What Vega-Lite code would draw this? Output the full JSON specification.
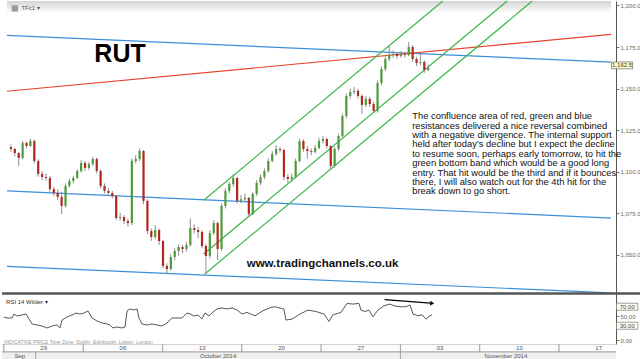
{
"$schema": "https://vega.github.io/schema/vega-lite/v6.json",
"padding": 0,
"spacing": 0,
"bounds": "flush",
"background": "white",
"config": {"view": {"stroke": null}, "font": "Liberation Sans"},
"datasets": {
"candles": [
{"t":0.125,"o":1114.9,"h":1116.5,"l":1112.0,"c":1113.7},
{"t":0.375,"o":1113.7,"h":1114.5,"l":1109.5,"c":1111.3},
{"t":0.625,"o":1111.3,"h":1112.0,"l":1103.5,"c":1108.3},
{"t":0.875,"o":1108.3,"h":1118.5,"l":1107.5,"c":1117.3},
{"t":1.125,"o":1117.3,"h":1118.0,"l":1114.0,"c":1115.5},
{"t":1.375,"o":1115.5,"h":1120.0,"l":1114.8,"c":1118.5},
{"t":1.625,"o":1118.5,"h":1119.5,"l":1105.0,"c":1106.5},
{"t":1.875,"o":1106.5,"h":1107.5,"l":1097.0,"c":1098.7},
{"t":2.125,"o":1098.7,"h":1100.5,"l":1095.0,"c":1096.9},
{"t":2.375,"o":1096.9,"h":1099.0,"l":1094.5,"c":1096.3},
{"t":2.625,"o":1096.3,"h":1097.5,"l":1088.0,"c":1089.6},
{"t":2.875,"o":1089.6,"h":1091.0,"l":1085.5,"c":1087.3},
{"t":3.125,"o":1087.3,"h":1089.5,"l":1083.0,"c":1084.9},
{"t":3.375,"o":1084.9,"h":1088.0,"l":1074.6,"c":1079.5},
{"t":3.625,"o":1079.5,"h":1093.0,"l":1078.5,"c":1091.5},
{"t":3.875,"o":1091.5,"h":1096.0,"l":1090.5,"c":1094.5},
{"t":4.125,"o":1094.5,"h":1097.5,"l":1093.0,"c":1096.3},
{"t":4.375,"o":1096.3,"h":1101.5,"l":1095.5,"c":1100.5},
{"t":4.625,"o":1100.5,"h":1107.0,"l":1099.5,"c":1105.3},
{"t":4.875,"o":1105.3,"h":1106.5,"l":1100.5,"c":1102.3},
{"t":5.125,"o":1102.3,"h":1106.0,"l":1101.0,"c":1104.7},
{"t":5.375,"o":1104.7,"h":1109.0,"l":1103.5,"c":1107.7},
{"t":5.625,"o":1107.7,"h":1108.5,"l":1099.0,"c":1100.5},
{"t":5.875,"o":1100.5,"h":1101.5,"l":1090.0,"c":1091.5},
{"t":6.125,"o":1091.5,"h":1093.0,"l":1087.0,"c":1088.5},
{"t":6.375,"o":1088.5,"h":1090.5,"l":1085.5,"c":1087.3},
{"t":6.625,"o":1087.3,"h":1088.5,"l":1084.0,"c":1085.5},
{"t":6.875,"o":1085.5,"h":1086.0,"l":1071.0,"c":1072.2},
{"t":7.125,"o":1072.2,"h":1075.5,"l":1070.5,"c":1072.8},
{"t":7.375,"o":1072.8,"h":1074.0,"l":1068.5,"c":1070.4},
{"t":7.625,"o":1070.4,"h":1072.0,"l":1067.0,"c":1069.2},
{"t":7.875,"o":1069.2,"h":1108.0,"l":1068.0,"c":1106.5},
{"t":8.125,"o":1106.5,"h":1110.0,"l":1105.0,"c":1107.7},
{"t":8.375,"o":1107.7,"h":1114.0,"l":1106.5,"c":1112.5},
{"t":8.625,"o":1112.5,"h":1113.0,"l":1080.5,"c":1082.5},
{"t":8.875,"o":1082.5,"h":1083.5,"l":1062.5,"c":1064.4},
{"t":9.125,"o":1064.4,"h":1066.0,"l":1058.5,"c":1060.8},
{"t":9.375,"o":1060.8,"h":1068.0,"l":1059.5,"c":1065.0},
{"t":9.625,"o":1065.0,"h":1066.0,"l":1056.0,"c":1058.4},
{"t":9.875,"o":1058.4,"h":1059.0,"l":1042.0,"c":1043.4},
{"t":10.125,"o":1043.4,"h":1045.0,"l":1039.2,"c":1041.6},
{"t":10.375,"o":1041.6,"h":1050.5,"l":1040.5,"c":1048.8},
{"t":10.625,"o":1048.8,"h":1054.0,"l":1047.0,"c":1052.4},
{"t":10.875,"o":1052.4,"h":1056.5,"l":1049.5,"c":1054.8},
{"t":11.125,"o":1054.8,"h":1056.0,"l":1051.0,"c":1053.6},
{"t":11.375,"o":1053.6,"h":1058.0,"l":1052.0,"c":1056.0},
{"t":11.625,"o":1056.0,"h":1072.0,"l":1055.0,"c":1066.2},
{"t":11.875,"o":1066.2,"h":1068.5,"l":1063.0,"c":1065.0},
{"t":12.125,"o":1065.0,"h":1067.0,"l":1060.0,"c":1063.8},
{"t":12.375,"o":1063.8,"h":1065.0,"l":1054.0,"c":1055.4},
{"t":12.625,"o":1055.4,"h":1056.5,"l":1038.6,"c":1049.4},
{"t":12.875,"o":1049.4,"h":1065.0,"l":1048.0,"c":1063.2},
{"t":13.125,"o":1063.2,"h":1071.0,"l":1062.0,"c":1069.2},
{"t":13.375,"o":1069.2,"h":1070.0,"l":1047.0,"c":1053.6},
{"t":13.625,"o":1053.6,"h":1081.0,"l":1052.5,"c":1079.5},
{"t":13.875,"o":1079.5,"h":1090.0,"l":1078.0,"c":1088.5},
{"t":14.125,"o":1088.5,"h":1094.0,"l":1087.0,"c":1092.6},
{"t":14.375,"o":1092.6,"h":1098.5,"l":1091.0,"c":1096.3},
{"t":14.625,"o":1096.3,"h":1097.0,"l":1081.0,"c":1082.5},
{"t":14.875,"o":1082.5,"h":1086.0,"l":1081.0,"c":1083.5},
{"t":15.125,"o":1083.5,"h":1087.0,"l":1082.0,"c":1084.3},
{"t":15.375,"o":1084.3,"h":1085.0,"l":1073.0,"c":1074.6},
{"t":15.625,"o":1074.6,"h":1088.0,"l":1074.0,"c":1086.7},
{"t":15.875,"o":1086.7,"h":1095.0,"l":1085.5,"c":1093.3},
{"t":16.125,"o":1093.3,"h":1098.5,"l":1092.0,"c":1096.9},
{"t":16.375,"o":1096.9,"h":1102.0,"l":1095.5,"c":1100.5},
{"t":16.625,"o":1100.5,"h":1108.0,"l":1099.5,"c":1106.5},
{"t":16.875,"o":1106.5,"h":1112.5,"l":1105.5,"c":1110.7},
{"t":17.125,"o":1110.7,"h":1116.0,"l":1109.5,"c":1113.7},
{"t":17.375,"o":1113.7,"h":1115.0,"l":1111.5,"c":1113.1},
{"t":17.625,"o":1113.1,"h":1114.0,"l":1095.0,"c":1096.9},
{"t":17.875,"o":1096.9,"h":1098.5,"l":1093.5,"c":1095.7},
{"t":18.125,"o":1095.7,"h":1099.0,"l":1094.0,"c":1096.9},
{"t":18.375,"o":1096.9,"h":1108.0,"l":1096.0,"c":1106.5},
{"t":18.625,"o":1106.5,"h":1120.0,"l":1105.5,"c":1118.5},
{"t":18.875,"o":1118.5,"h":1119.5,"l":1112.0,"c":1113.7},
{"t":19.125,"o":1113.7,"h":1115.5,"l":1108.0,"c":1112.5},
{"t":19.375,"o":1112.5,"h":1114.0,"l":1110.0,"c":1112.0},
{"t":19.625,"o":1112.0,"h":1116.0,"l":1111.0,"c":1114.3},
{"t":19.875,"o":1114.3,"h":1120.5,"l":1113.5,"c":1118.5},
{"t":20.125,"o":1118.5,"h":1121.5,"l":1117.0,"c":1119.7},
{"t":20.375,"o":1119.7,"h":1120.5,"l":1114.0,"c":1115.5},
{"t":20.625,"o":1115.5,"h":1116.0,"l":1101.5,"c":1103.5},
{"t":20.875,"o":1103.5,"h":1115.0,"l":1102.5,"c":1113.7},
{"t":21.125,"o":1113.7,"h":1123.0,"l":1112.5,"c":1121.5},
{"t":21.375,"o":1121.5,"h":1135.0,"l":1120.5,"c":1133.5},
{"t":21.625,"o":1133.5,"h":1147.0,"l":1132.0,"c":1145.6},
{"t":21.875,"o":1145.6,"h":1150.0,"l":1144.0,"c":1148.0},
{"t":22.125,"o":1148.0,"h":1151.0,"l":1146.5,"c":1148.6},
{"t":22.375,"o":1148.6,"h":1150.0,"l":1144.0,"c":1145.6},
{"t":22.625,"o":1145.6,"h":1146.5,"l":1134.7,"c":1140.2},
{"t":22.875,"o":1140.2,"h":1145.5,"l":1139.0,"c":1143.8},
{"t":23.125,"o":1143.8,"h":1145.0,"l":1139.0,"c":1140.7},
{"t":23.375,"o":1140.7,"h":1142.0,"l":1135.5,"c":1136.6},
{"t":23.625,"o":1136.6,"h":1155.0,"l":1135.5,"c":1153.4},
{"t":23.875,"o":1153.4,"h":1163.5,"l":1152.0,"c":1161.8},
{"t":24.125,"o":1161.8,"h":1169.5,"l":1160.5,"c":1167.8},
{"t":24.375,"o":1167.8,"h":1175.6,"l":1166.5,"c":1170.2},
{"t":24.625,"o":1170.2,"h":1173.0,"l":1168.5,"c":1170.8},
{"t":24.875,"o":1170.8,"h":1172.0,"l":1168.0,"c":1169.6},
{"t":25.125,"o":1169.6,"h":1172.5,"l":1168.5,"c":1170.8},
{"t":25.375,"o":1170.8,"h":1172.0,"l":1168.5,"c":1170.2},
{"t":25.625,"o":1170.2,"h":1178.0,"l":1169.5,"c":1175.0},
{"t":25.875,"o":1175.0,"h":1176.0,"l":1166.0,"c":1167.8},
{"t":26.125,"o":1167.8,"h":1169.0,"l":1163.5,"c":1165.4},
{"t":26.375,"o":1165.4,"h":1170.8,"l":1164.0,"c":1166.0},
{"t":26.625,"o":1166.0,"h":1167.0,"l":1159.5,"c":1161.2},
{"t":26.875,"o":1161.2,"h":1164.5,"l":1160.5,"c":1162.5}
],
"lines": [
{"kind":"blue","t1":-0.126,"p1":1182.0,"t2":38.59,"p2":1165.9},
{"kind":"red","t1":-0.126,"p1":1148.4,"t2":38.59,"p2":1182.6},
{"kind":"blue","t1":-0.126,"p1":1088.5,"t2":38.59,"p2":1072.2},
{"kind":"blue","t1":-0.126,"p1":1043.2,"t2":38.59,"p2":1027.2},
{"kind":"green","t1":12.48,"p1":1082.9,"t2":27.81,"p2":1202.6},
{"kind":"green","t1":12.48,"p1":1050.6,"t2":31.94,"p2":1202.6},
{"kind":"green","t1":12.55,"p1":1038.6,"t2":33.54,"p2":1202.6}
],
"rsi": [
{"t":0,"r":48.4},{"t":0.19,"r":46.3},{"t":0.5,"r":46.3},{"t":0.63,"r":54.7},{"t":0.82,"r":50.5},{"t":1.13,"r":52.6},{"t":1.39,"r":54.7},{"t":1.58,"r":44.2},{"t":1.77,"r":33.7},{"t":2.08,"r":31.6},{"t":2.4,"r":29.5},{"t":2.71,"r":25.3},{"t":3.03,"r":29.5},{"t":3.34,"r":31.6},{"t":3.53,"r":25.3},{"t":3.66,"r":42.1},{"t":3.97,"r":48.4},{"t":4.29,"r":52.6},{"t":4.54,"r":56.8},{"t":4.79,"r":54.7},{"t":5.04,"r":56.8},{"t":5.3,"r":61.1},{"t":5.55,"r":46.3},{"t":5.86,"r":40},{"t":6.18,"r":35.8},{"t":6.49,"r":33.7},{"t":6.68,"r":31.6},{"t":6.87,"r":25.3},{"t":7.12,"r":27.4},{"t":7.44,"r":25.3},{"t":7.63,"r":27.4},{"t":7.76,"r":61.1},{"t":7.94,"r":65.3},{"t":8.2,"r":63.2},{"t":8.39,"r":65.3},{"t":8.51,"r":46.3},{"t":8.7,"r":33.7},{"t":9.02,"r":31.6},{"t":9.33,"r":33.7},{"t":9.65,"r":31.6},{"t":9.96,"r":29.5},{"t":10.28,"r":35.8},{"t":10.59,"r":46.3},{"t":10.91,"r":46.3},{"t":11.22,"r":46.3},{"t":11.54,"r":56.8},{"t":11.73,"r":54.7},{"t":11.98,"r":50.5},{"t":12.23,"r":52.6},{"t":12.48,"r":44.2},{"t":12.67,"r":56.8},{"t":12.93,"r":50.5},{"t":13.11,"r":56.8},{"t":13.43,"r":65.3},{"t":13.75,"r":67.4},{"t":14.06,"r":65.3},{"t":14.38,"r":67.4},{"t":14.69,"r":63.2},{"t":15.01,"r":54.7},{"t":15.32,"r":58},{"t":15.83,"r":51},{"t":16.33,"r":61.6},{"t":16.83,"r":68.6},{"t":17.09,"r":70},{"t":17.65,"r":65},{"t":17.78,"r":42},{"t":18.16,"r":44},{"t":18.66,"r":54.6},{"t":19.17,"r":63},{"t":19.67,"r":60},{"t":20.18,"r":54.6},{"t":20.49,"r":39},{"t":20.74,"r":53},{"t":21.25,"r":58},{"t":21.63,"r":77},{"t":22.01,"r":75.6},{"t":22.38,"r":77},{"t":22.51,"r":63},{"t":22.76,"r":60},{"t":23.01,"r":63},{"t":23.27,"r":49},{"t":23.58,"r":63},{"t":23.96,"r":72},{"t":24.34,"r":75.6},{"t":24.59,"r":72},{"t":24.97,"r":70},{"t":25.35,"r":70},{"t":25.6,"r":74},{"t":25.79,"r":54.6},{"t":26.1,"r":51},{"t":26.36,"r":53},{"t":26.61,"r":44},{"t":26.86,"r":51},{"t":26.99,"r":53}
],
"dates": [
{"row":"d","t1":-5,"t2":0},
{"row":"d","t1":0,"t2":5,"mid":2.5,"lab":"29"},
{"row":"d","t1":5,"t2":10,"mid":7.5,"lab":"06"},
{"row":"d","t1":10,"t2":15,"mid":12.5,"lab":"13"},
{"row":"d","t1":15,"t2":20,"mid":17.5,"lab":"20"},
{"row":"d","t1":20,"t2":25,"mid":22.5,"lab":"27"},
{"row":"d","t1":25,"t2":30,"mid":27.5,"lab":"03"},
{"row":"d","t1":30,"t2":35,"mid":32.5,"lab":"10"},
{"row":"d","t1":35,"t2":40,"mid":37.5,"lab":"17"},
{"row":"m","t1":-5,"t2":2,"mid":1.0,"lab":"Sep"},
{"row":"m","t1":2,"t2":25,"mid":13.5,"lab":"October 2014"},
{"row":"m","t1":25,"t2":45,"mid":31.65,"lab":"November 2014"}
]
},
"vconcat": [
{
"width": 614, "height": 292,
"layer": [
{"data": {"values": [{"t1": -0.126, "t2": 38.59, "p1": 1195.5, "p2": 1202.65}]},
 "mark": {"type": "rect", "color": {"x1": 0, "y1": 0, "x2": 0, "y2": 1, "gradient": "linear", "stops": [{"offset": 0, "color": "#d4d4d4"}, {"offset": 1, "color": "#ffffff"}]}},
 "encoding": {
  "x": {"field": "t1", "type": "quantitative", "scale": {"domain": [-0.126, 38.59], "nice": false, "zero": false}, "axis": null},
  "x2": {"field": "t2"},
  "y": {"field": "p1", "type": "quantitative", "scale": {"domain": [1027.16, 1202.65], "nice": false, "zero": false}, "title": null,
   "axis": {"orient": "right", "values": [1050, 1075, 1100, 1125, 1150, 1175, 1200], "format": ",.1f", "labelFontSize": 6, "labelColor": "#666", "tickColor": "#777", "tickSize": 3, "labelPadding": 1, "domainColor": "#555", "grid": false, "title": null}},
  "y2": {"field": "p2"}
 }},
{"data": {"name": "lines"},
 "mark": {"type": "rule", "strokeWidth": 1.2},
 "encoding": {
  "x": {"field": "t1", "type": "quantitative", "axis": null},
  "x2": {"field": "t2"},
  "y": {"field": "p1", "type": "quantitative", "title": null},
  "y2": {"field": "p2"},
  "color": {"field": "kind", "type": "nominal", "legend": null, "scale": {"domain": ["blue", "red", "green"], "range": ["#3b8fd9", "#e8432e", "#3cb64a"]}}
 }},
{"data": {"name": "candles"},
 "mark": {"type": "rule", "color": "#8f8f8f", "strokeWidth": 1},
 "encoding": {
  "x": {"field": "t", "type": "quantitative", "axis": null},
  "y": {"field": "l", "type": "quantitative", "title": null},
  "y2": {"field": "h"}
 }},
{"data": {"name": "candles"},
 "mark": {"type": "bar", "size": 2.2},
 "encoding": {
  "x": {"field": "t", "type": "quantitative", "axis": null},
  "y": {"field": "o", "type": "quantitative", "title": null},
  "y2": {"field": "c"},
  "color": {"condition": {"test": "datum.c >= datum.o", "value": "#4f9a3a"}, "value": "#b3261e"}
 }},
{"data": {"values": [{"t": 7.12, "p": 1171.0, "txt": "RUT"}]},
 "mark": {"type": "text", "fontSize": 25, "fontWeight": "bold", "color": "#000", "align": "center", "baseline": "middle"},
 "encoding": {"x": {"field": "t", "type": "quantitative", "axis": null}, "y": {"field": "p", "type": "quantitative", "title": null}, "text": {"field": "txt"}}},
{"data": {"values": [{"t": 20.1, "p": 1044.4, "txt": "www.tradingchannels.co.uk"}]},
 "mark": {"type": "text", "fontSize": 11.5, "fontWeight": "bold", "color": "#111", "align": "center", "baseline": "middle"},
 "encoding": {"x": {"field": "t", "type": "quantitative", "axis": null}, "y": {"field": "p", "type": "quantitative", "title": null}, "text": {"field": "txt"}}},
{"data": {"values": [{"t": 25.85, "p": 1135.8}]},
 "mark": {"type": "text", "fontSize": 9.4, "color": "#111", "align": "left", "baseline": "top", "lineHeight": 9.4,
  "text": ["The confluence area of red, green and blue", "resistances delivered a nice reversal combined", "with a negative divergence. The internal support", "held after today’s decline but I expect the decline", "to resume soon, perhaps early tomorrow, to hit the", "green bottom band which would be a good long", "entry. That hit would be the third and if it bounces", "there, I will also watch out for the 4th hit for the", "break down to go short."]},
 "encoding": {"x": {"field": "t", "type": "quantitative", "axis": null}, "y": {"field": "p", "type": "quantitative", "title": null}}},
{"data": {"values": [{"t": 0.378, "p": 1198.2}]},
 "mark": {"type": "point", "shape": "square", "filled": true, "size": 40, "color": "#9a9a9a", "opacity": 1},
 "encoding": {"x": {"field": "t", "type": "quantitative", "axis": null}, "y": {"field": "p", "type": "quantitative", "title": null}}},
{"data": {"values": [{"t": 0.8, "p": 1198.2, "txt": "TFc1 ▾"}]},
 "mark": {"type": "text", "fontSize": 6, "color": "#555", "align": "left", "baseline": "middle"},
 "encoding": {"x": {"field": "t", "type": "quantitative", "axis": null}, "y": {"field": "p", "type": "quantitative", "title": null}, "text": {"field": "txt"}}},
{"data": {"values": [{"t1": 38.62, "t2": 39.97, "p1": 1161.9, "p2": 1166.0}]},
 "mark": {"type": "rect", "fill": "#ffffcc", "stroke": "#666", "strokeWidth": 0.7, "clip": false},
 "encoding": {"x": {"field": "t1", "type": "quantitative", "axis": null}, "x2": {"field": "t2"}, "y": {"field": "p1", "type": "quantitative", "title": null}, "y2": {"field": "p2"}}},
{"data": {"values": [{"t": 39.3, "p": 1163.95, "txt": "1,162.5"}]},
 "mark": {"type": "text", "fontSize": 6, "color": "#333", "align": "center", "baseline": "middle", "clip": false},
 "encoding": {"x": {"field": "t", "type": "quantitative", "axis": null}, "y": {"field": "p", "type": "quantitative", "title": null}, "text": {"field": "txt"}}}
]
},
{
"width": 614, "height": 51,
"layer": [
{"mark": {"type": "rule", "color": "#ef6a55", "strokeWidth": 1},
 "encoding": {"y": {"datum": 70, "type": "quantitative", "scale": {"domain": [-8.4, 98.9], "nice": false, "zero": false}, "title": null,
   "axis": {"orient": "right", "values": [0, 50], "format": ".2f", "labelFontSize": 6, "labelColor": "#666", "tickColor": "#777", "tickSize": 3, "labelPadding": 1, "domainColor": "#555", "grid": false, "title": null}}}},
{"mark": {"type": "rule", "color": "#5cb85c", "strokeWidth": 1},
 "encoding": {"y": {"datum": 30, "type": "quantitative", "title": null}}},
{"data": {"name": "rsi"},
 "mark": {"type": "line", "color": "#444", "strokeWidth": 0.9},
 "encoding": {"x": {"field": "t", "type": "quantitative", "scale": {"domain": [-0.126, 38.59], "nice": false, "zero": false}, "axis": null}, "y": {"field": "r", "type": "quantitative", "title": null}}},
{"data": {"values": [{"t1": 24.0, "r1": 85, "t2": 26.9, "r2": 77.5}]},
 "mark": {"type": "rule", "color": "#000", "strokeWidth": 1.2},
 "encoding": {"x": {"field": "t1", "type": "quantitative", "axis": null}, "x2": {"field": "t2"}, "y": {"field": "r1", "type": "quantitative", "title": null}, "y2": {"field": "r2"}}},
{"data": {"values": [{"t": 27.0, "r": 77.3}]},
 "mark": {"type": "point", "shape": "triangle-right", "filled": true, "size": 22, "color": "#000", "opacity": 1, "angle": 6},
 "encoding": {"x": {"field": "t", "type": "quantitative", "axis": null}, "y": {"field": "r", "type": "quantitative", "title": null}}},
{"data": {"values": [{"t": 0.13, "r": 80, "txt": "RSI 14 Wilder ▾"}]},
 "mark": {"type": "text", "fontSize": 6, "color": "#333", "align": "left", "baseline": "middle"},
 "encoding": {"x": {"field": "t", "type": "quantitative", "axis": null}, "y": {"field": "r", "type": "quantitative", "title": null}, "text": {"field": "txt"}}},
{"data": {"values": [{"t": 0.0, "r": -4.2, "txt": "INDICATIVE PRICE   Time Zone: Dublin, Edinburgh, Lisbon, London"}]},
 "mark": {"type": "text", "fontSize": 5, "color": "#999", "align": "left", "baseline": "middle"},
 "encoding": {"x": {"field": "t", "type": "quantitative", "axis": null}, "y": {"field": "r", "type": "quantitative", "title": null}, "text": {"field": "txt"}}},
{"data": {"values": [{"t1": 38.62, "t2": 39.97, "r1": 62.6, "r2": 77.4}, {"t1": 38.62, "t2": 39.97, "r1": 22.6, "r2": 37.4}]},
 "mark": {"type": "rect", "fill": "#fffff0", "stroke": "#777", "strokeWidth": 0.7, "clip": false},
 "encoding": {"x": {"field": "t1", "type": "quantitative", "axis": null}, "x2": {"field": "t2"}, "y": {"field": "r1", "type": "quantitative", "title": null}, "y2": {"field": "r2"}}},
{"data": {"values": [{"t": 39.3, "r": 70, "txt": "70.00"}, {"t": 39.3, "r": 30, "txt": "30.00"}]},
 "mark": {"type": "text", "fontSize": 6, "color": "#444", "align": "center", "baseline": "middle", "clip": false},
 "encoding": {"x": {"field": "t", "type": "quantitative", "axis": null}, "y": {"field": "r", "type": "quantitative", "title": null}, "text": {"field": "txt"}}},
{"data": {"values": [{"t1": -0.126, "t2": 40.3, "r": 97.8}]},
 "mark": {"type": "rule", "color": "#555", "strokeWidth": 2.5, "clip": false},
 "encoding": {"x": {"field": "t1", "type": "quantitative", "axis": null}, "x2": {"field": "t2"}, "y": {"field": "r", "type": "quantitative", "title": null}}}
]
},
{
"width": 614, "height": 16,
"data": {"name": "dates"},
"layer": [
{"mark": {"type": "rect", "stroke": "#9a9a9a", "strokeWidth": 0.8, "clip": true},
 "encoding": {
  "x": {"field": "t1", "type": "quantitative", "scale": {"domain": [-0.126, 38.59], "nice": false, "zero": false}, "axis": null},
  "x2": {"field": "t2"},
  "y": {"field": "row", "type": "nominal", "axis": null, "scale": {"domain": ["d", "m"], "paddingInner": 0, "paddingOuter": 0}},
  "color": {"condition": {"test": "datum.row === 'm'", "value": "#efefef"}, "value": "#fbfbfb"}
 }},
{"mark": {"type": "text", "fontSize": 6, "color": "#555", "baseline": "middle", "align": "center"},
 "encoding": {
  "x": {"field": "mid", "type": "quantitative", "axis": null},
  "y": {"field": "row", "type": "nominal", "axis": null},
  "text": {"field": "lab"}
 }}
]
}
]
}
